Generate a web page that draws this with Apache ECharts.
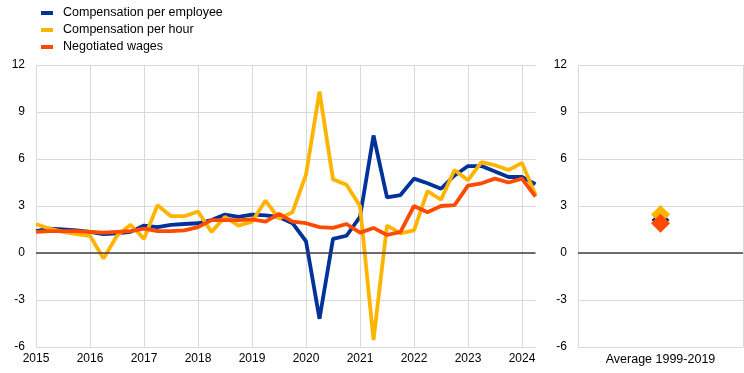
<!DOCTYPE html>
<html><head><meta charset="utf-8">
<script src="https://cdn.jsdelivr.net/npm/echarts@6/dist/echarts.min.js"></script>
<style>html,body{margin:0;padding:0;background:#fff}#c{width:744px;height:373px}</style>
</head><body><div id="c"></div>
<script>
const quarters = ['2015Q1','2015Q2','2015Q3','2015Q4','2016Q1','2016Q2','2016Q3','2016Q4',
  '2017Q1','2017Q2','2017Q3','2017Q4','2018Q1','2018Q2','2018Q3','2018Q4',
  '2019Q1','2019Q2','2019Q3','2019Q4','2020Q1','2020Q2','2020Q3','2020Q4',
  '2021Q1','2021Q2','2021Q3','2021Q4','2022Q1','2022Q2','2022Q3','2022Q4',
  '2023Q1','2023Q2','2023Q3','2023Q4','2024Q1','2024Q2'];
const perEmployee = [1.4,1.55,1.5,1.45,1.35,1.2,1.25,1.35,1.75,1.65,1.8,1.85,1.9,2.1,2.45,2.3,
  2.45,2.4,2.3,1.9,0.75,-4.2,0.9,1.1,2.3,7.5,3.55,3.7,4.75,4.45,4.1,4.95,5.55,5.55,5.2,4.85,4.85,4.4];
const perHour = [1.85,1.55,1.35,1.2,1.1,-0.35,1.1,1.8,0.9,3.05,2.35,2.35,2.65,1.35,2.3,1.75,
  2.0,3.35,2.2,2.6,5.0,10.3,4.7,4.35,3.0,-5.55,1.75,1.25,1.45,3.95,3.4,5.3,4.65,5.8,5.6,5.3,5.75,3.7];
const negotiated = [1.35,1.4,1.4,1.4,1.35,1.3,1.35,1.4,1.55,1.4,1.4,1.45,1.65,2.1,2.1,2.1,
  2.15,2.0,2.5,2.0,1.9,1.65,1.6,1.85,1.3,1.6,1.15,1.35,3.0,2.6,3.0,3.05,4.3,4.45,4.75,4.5,4.75,3.6];
const avgCategory = ['Average 1999-2019'];
const avgPerEmployee = [2.1];
const avgPerHour = [2.45];
const avgNegotiated = [1.9];
const seriesNames = ['Compensation per employee','Compensation per hour','Negotiated wages'];
const colors = ['#003299','#ffb400','#ff4b00'];

const font = 'Liberation Sans, Arial, sans-serif';
const yAxisBase = {
  type:'value', min:-6, max:12, interval:3,
  axisLine:{show:false}, axisTick:{show:false},
  axisLabel:{color:'#000', fontSize:12, fontFamily:font, margin:11},
  splitLine:{show:true, lineStyle:{color:'#d9d9d9', width:1}}
};
const chart = echarts.init(document.getElementById('c'), null, {renderer:'canvas'});
chart.setOption({
  animation:false,
  backgroundColor:'#fff',
  color: colors,
  legend:{
    orient:'vertical', left:36, top:1, itemGap:3,
    itemWidth:12, itemHeight:4, icon:'rect',
    textStyle:{color:'#000', fontSize:12.5, fontFamily:font, lineHeight:14, padding:[0,0,0,5]},
    data: seriesNames
  },
  grid:[
    {left:36, top:65, width:499.5, height:282},
    {left:578, top:65, width:165, height:282}
  ],
  xAxis:[
    {type:'category', gridIndex:0, data:quarters, boundaryGap:false,
     axisLine:{show:false}, axisTick:{show:false},
     axisLabel:{interval:3, color:'#000', fontSize:12, fontFamily:font, margin:6,
       formatter:v=>v.slice(0,4)},
     splitLine:{show:true, interval:3, lineStyle:{color:'#d9d9d9', width:1}}},
    {type:'category', gridIndex:1, data:avgCategory, boundaryGap:true,
     axisLine:{show:false}, axisTick:{show:false},
     axisLabel:{color:'#000', fontSize:12.5, fontFamily:font, margin:6},
     splitLine:{show:true, lineStyle:{color:'#d9d9d9', width:1}}}
  ],
  yAxis:[
    Object.assign({gridIndex:0}, yAxisBase),
    Object.assign({gridIndex:1}, yAxisBase)
  ],
  series:[
    {name:seriesNames[0], type:'line', xAxisIndex:0, yAxisIndex:0, data:perEmployee,
     symbol:'none', lineStyle:{width:3.8, color:colors[0]}, itemStyle:{color:colors[0]},
     markLine:{silent:true, symbol:'none', label:{show:false},
       lineStyle:{color:'#404040', width:1.6, type:'solid'}, data:[{yAxis:0}]}},
    {name:seriesNames[1], type:'line', xAxisIndex:0, yAxisIndex:0, data:perHour,
     symbol:'none', lineStyle:{width:3.8, color:colors[1]}, itemStyle:{color:colors[1]}},
    {name:seriesNames[2], type:'line', xAxisIndex:0, yAxisIndex:0, data:negotiated,
     symbol:'none', lineStyle:{width:3.8, color:colors[2]}, itemStyle:{color:colors[2]}},
    {name:seriesNames[0], type:'scatter', xAxisIndex:1, yAxisIndex:1, data:avgPerEmployee,
     symbol:'diamond', symbolSize:18, itemStyle:{color:colors[0], opacity:1},
     markLine:{silent:true, symbol:'none', label:{show:false},
       lineStyle:{color:'#404040', width:1.6, type:'solid'}, data:[{yAxis:0}]}},
    {name:seriesNames[1], type:'scatter', xAxisIndex:1, yAxisIndex:1, data:avgPerHour,
     symbol:'diamond', symbolSize:19, itemStyle:{color:colors[1], opacity:1}},
    {name:seriesNames[2], type:'scatter', xAxisIndex:1, yAxisIndex:1, data:avgNegotiated,
     symbol:'diamond', symbolSize:19, itemStyle:{color:colors[2], opacity:1}}
  ]
});
</script></body></html>
